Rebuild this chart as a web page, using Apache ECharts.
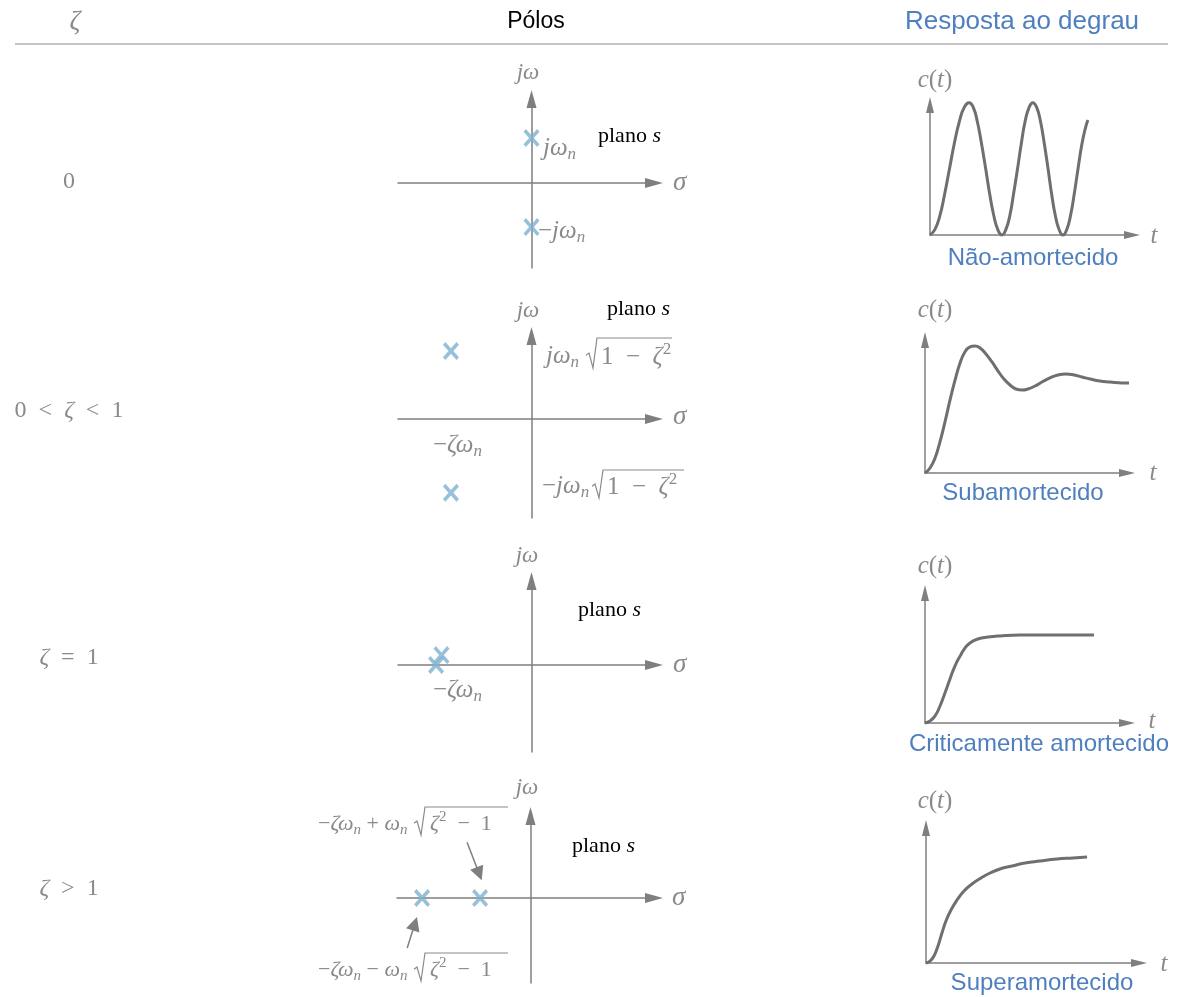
<!DOCTYPE html>
<html>
<head>
<meta charset="utf-8">
<script src="https://cdn.jsdelivr.net/npm/echarts@6/dist/echarts.min.js"></script>
<style>
  html, body { margin: 0; padding: 0; background: #ffffff; }
  #chart { width: 1184px; height: 997px; }
</style>
</head>
<body>
<div id="chart"></div>
<script>
// ---- table text ----
const headerLabels = ['ζ', 'Pólos', 'Resposta ao degrau'];
const responseNames = ['Não-amortecido', 'Subamortecido', 'Criticamente amortecido', 'Superamortecido'];

// ---- pole locations [σ, jω] (units of ~ω_n) ----
const polesUndamped = [[0, 1.0], [0, -0.98]];
const polesUnderdamped = [[-1.79, 1.51], [-1.79, -1.64]];
const polesCritical = [[-2.12, 0], [-2.0, 0.22]];
const polesOverdamped = [[-2.41, 0], [-1.12, 0]];
// pointer arrows for the overdamped pole labels: [σ0, ω0, σ1, ω1]
const overdampedPointers = [[-1.41, 1.24, -1.14, 0.54], [-2.74, -1.11, -2.57, -0.57]];

// ---- step responses [t, c(t)] ----
const stepUndamped = [
  [0, 0], [0.23, 0.08], [0.47, 0.29], [0.70, 0.62], [0.93, 1.0], [1.16, 1.38], [1.40, 1.71], [1.63, 1.92], [1.86, 1.99],
  [2.06, 1.92], [2.25, 1.71], [2.45, 1.38], [2.65, 1.0], [2.84, 0.62], [3.04, 0.29], [3.23, 0.08], [3.43, 0],
  [3.61, 0.08], [3.80, 0.29], [3.98, 0.62], [4.17, 1.0], [4.35, 1.38], [4.53, 1.71], [4.72, 1.92], [4.90, 1.99],
  [5.08, 1.92], [5.26, 1.71], [5.44, 1.38], [5.62, 1.0], [5.79, 0.62], [5.97, 0.29], [6.15, 0.08], [6.33, 0],
  [6.51, 0.08], [6.69, 0.29], [6.87, 0.62], [7.05, 1.0], [7.23, 1.36], [7.41, 1.62], [7.52, 1.73]
];
const stepUnderdamped = [
  [0, 0], [0.24, 0.055], [0.48, 0.165], [0.71, 0.34], [0.95, 0.56], [1.19, 0.80], [1.43, 1.02], [1.67, 1.21],
  [1.90, 1.33], [2.14, 1.385], [2.38, 1.396], [2.62, 1.374], [2.90, 1.308], [3.19, 1.22], [3.48, 1.12],
  [3.76, 1.033], [4.05, 0.967], [4.33, 0.923], [4.62, 0.912], [4.90, 0.923], [5.24, 0.956], [5.57, 1.0],
  [5.95, 1.044], [6.33, 1.077], [6.71, 1.088], [7.10, 1.077], [7.48, 1.055], [7.86, 1.033], [8.33, 1.011],
  [8.81, 1.0], [9.38, 0.989], [10.14, 0.989]
];
const stepCritical = [
  [0, 0], [0.24, 0.023], [0.48, 0.08], [0.71, 0.19], [0.95, 0.34], [1.19, 0.5], [1.43, 0.65], [1.67, 0.76],
  [1.90, 0.85], [2.14, 0.91], [2.52, 0.955], [3.0, 0.977], [3.57, 0.99], [4.52, 1.0], [6.43, 1.0], [8.05, 1.0]
];
const stepOverdamped = [
  [0, 0], [0.19, 0.018], [0.38, 0.064], [0.57, 0.155], [0.76, 0.273], [0.95, 0.382], [1.19, 0.482], [1.48, 0.573],
  [1.81, 0.655], [2.19, 0.718], [2.62, 0.773], [3.05, 0.818], [3.52, 0.855], [4.1, 0.882], [4.71, 0.909],
  [5.43, 0.927], [6.24, 0.945], [7.0, 0.955], [7.67, 0.964]
];

const poleSets = [polesUndamped, polesUnderdamped, polesCritical, polesOverdamped];
const stepSets = [stepUndamped, stepUnderdamped, stepCritical, stepOverdamped];

// ---- layout (pixels) ----
const PX_POLE = 45;  // pixels per unit in the s-plane panels
const PX_T = 21;     // pixels per time unit in the response panels
const poleBoxes = [
  { left: 398, tipX: 663, tipY: 90,  bottom: 268, ox: 531.5, oy: 183 },
  { left: 398, tipX: 663, tipY: 327, bottom: 518, ox: 531.5, oy: 419 },
  { left: 398, tipX: 663, tipY: 572, bottom: 752, ox: 531.5, oy: 665 },
  { left: 397, tipX: 663, tipY: 807, bottom: 983, ox: 530.5, oy: 898 }
];
const stepBoxes = [
  { ox: 930, oy: 235, tipX: 1140, tipY: 97,  sy: 66.5 },
  { ox: 925, oy: 473, tipX: 1135, tipY: 332, sy: 91 },
  { ox: 925, oy: 723, tipX: 1135, tipY: 585, sy: 88 },
  { ox: 926, oy: 963, tipX: 1147, tipY: 820, sy: 110 }
];

const AXIS_GRAY = '#7f7f7f';
const TEXT_GRAY = '#8a8a8a';
const CURVE_GRAY = '#6f6f6f';
const POLE_BLUE = '#7db0cf';
const TITLE_BLUE = '#4f7fbf';
const SERIF = '"Liberation Serif", "Times New Roman", serif';
const SANS = '"Liberation Sans", Arial, Helvetica, sans-serif';
const POLE_MARK = 'path://M0,1.5L1.5,0L5,3.5L8.5,0L10,1.5L6.5,5L10,8.5L8.5,10L5,6.5L1.5,10L0,8.5L3.5,5Z';

const grids = [], xAxes = [], yAxes = [], series = [];

function bareAxis(extra) {
  return Object.assign({
    type: 'value',
    axisTick: { show: false },
    axisLabel: { show: false },
    splitLine: { show: false }
  }, extra);
}

// s-plane panels
poleBoxes.forEach(function (b, i) {
  const ARROW = 9;
  const right = b.tipX - ARROW, top = b.tipY + ARROW;
  grids.push({ left: b.left, top: top, width: right - b.left, height: b.bottom - top });
  const lineCfg = { onZero: true, symbol: ['none', 'triangle'], symbolSize: [10, 18], lineStyle: { color: AXIS_GRAY, width: 1.5 } };
  xAxes.push(bareAxis({ gridIndex: i, min: (b.left - b.ox) / PX_POLE, max: (right - b.ox) / PX_POLE, axisLine: lineCfg }));
  yAxes.push(bareAxis({ gridIndex: i, min: (b.oy - b.bottom) / PX_POLE, max: (b.oy - top) / PX_POLE, axisLine: lineCfg }));
  series.push({
    type: 'scatter', xAxisIndex: i, yAxisIndex: i, silent: true, z: 5,
    symbol: POLE_MARK, symbolSize: [16, 18],
    itemStyle: { color: POLE_BLUE },
    data: poleSets[i]
  });
});

// pointer arrows on the overdamped s-plane
series.push({
  type: 'lines', coordinateSystem: 'cartesian2d', xAxisIndex: 3, yAxisIndex: 3, silent: true,
  symbol: ['none', 'triangle'], symbolSize: [9, 14],
  lineStyle: { color: AXIS_GRAY, width: 1.5, opacity: 1, curveness: 0 },
  data: overdampedPointers.map(function (p) { return { coords: [[p[0], p[1]], [p[2], p[3]]] }; })
});

// step response panels
stepBoxes.forEach(function (b, k) {
  const i = k + 4;
  const ARROW = 8;
  const right = b.tipX - ARROW, top = b.tipY + ARROW;
  grids.push({ left: b.ox, top: top, width: right - b.ox, height: b.oy - top });
  const lineCfg = { onZero: true, symbol: ['none', 'triangle'], symbolSize: [8, 16], lineStyle: { color: AXIS_GRAY, width: 1.5 } };
  xAxes.push(bareAxis({ gridIndex: i, min: 0, max: (right - b.ox) / PX_T, axisLine: lineCfg }));
  yAxes.push(bareAxis({ gridIndex: i, min: 0, max: (b.oy - top) / b.sy, axisLine: lineCfg }));
  series.push({
    type: 'line', xAxisIndex: i, yAxisIndex: i, silent: true, clip: false,
    showSymbol: false, smooth: 0.5,
    lineStyle: { color: CURVE_GRAY, width: 3 },
    data: stepSets[k]
  });
});

// ---- text ----
function richFor(size) {
  const sub = Math.round(size * 0.66);
  const lh = Math.round(size * 1.25);
  return {
    i: { fontFamily: SERIF, fontStyle: 'italic', fontSize: size, lineHeight: lh, fill: TEXT_GRAY },
    r: { fontFamily: SERIF, fontSize: size, lineHeight: lh, fill: TEXT_GRAY },
    s: { fontFamily: SERIF, fontStyle: 'italic', fontSize: sub, lineHeight: sub, verticalAlign: 'bottom', fill: TEXT_GRAY },
    p: { fontFamily: SERIF, fontSize: sub, lineHeight: sub, verticalAlign: 'top', fill: TEXT_GRAY },
    b: { fontFamily: SERIF, fontSize: size, lineHeight: lh, fill: '#000000' },
    bi: { fontFamily: SERIF, fontStyle: 'italic', fontSize: size, lineHeight: lh, fill: '#000000' }
  };
}

function mathText(x, y, text, size, align) {
  return {
    type: 'text', x: x, y: y, z: 10, silent: true,
    style: { text: text, rich: richFor(size), align: align || 'left', verticalAlign: 'middle' }
  };
}
function plainText(x, y, text, font, color) {
  return {
    type: 'text', x: x, y: y, z: 10, silent: true,
    style: { text: text, font: font, fill: color, align: 'center', verticalAlign: 'middle' }
  };
}
// radical sign: x = bottom of the stroke, runs up to yTop and along to xEnd
function radical(x, yTop, yBot, xEnd) {
  const h = yBot - yTop;
  return {
    type: 'polyline', z: 10, silent: true,
    shape: { points: [[x - 7, yBot - h * 0.42], [x - 4, yBot - h * 0.5], [x, yBot], [x + 4, yTop], [xEnd, yTop]] },
    style: { stroke: TEXT_GRAY, lineWidth: 1.2, fill: null }
  };
}

const graphics = [];
// header row
graphics.push(mathText(75, 22, '{i|' + headerLabels[0] + '}', 27, 'center'));
graphics.push(plainText(536, 22, headerLabels[1], '23px ' + SANS, '#000000'));
graphics.push(plainText(1022, 22, headerLabels[2], '26px ' + SANS, TITLE_BLUE));
graphics.push({ type: 'line', silent: true, shape: { x1: 15, y1: 44, x2: 1168, y2: 44 }, style: { stroke: '#8c8c8c', lineWidth: 1.2 } });

// damping column
const dampRich = [
  '{r|0}',
  '{r|0  <  }{i|ζ}{r|  <  1}',
  '{i|ζ}{r|  =  1}',
  '{i|ζ}{r|  >  1}'
];
const dampY = [182, 411, 658, 889];
dampRich.forEach(function (t, i) { graphics.push(mathText(69, dampY[i], t, 24, 'center')); });

// s-plane annotations
const planeLabel = '{b|plano }{bi|s}';
const sigmaLabel = '{i|σ}';
const jwLabel = '{i|jω}';
const AX = 23, LB = 25;
// row 1
graphics.push(mathText(528, 73, jwLabel, AX, 'center'));
graphics.push(mathText(673, 183, sigmaLabel, 27));
graphics.push(mathText(598, 136, planeLabel, 22));
graphics.push(mathText(543, 148, '{i|jω}{s|n}', LB));
graphics.push(mathText(538, 231, '{r|−}{i|jω}{s|n}', LB));
// row 2
graphics.push(mathText(528, 311, jwLabel, AX, 'center'));
graphics.push(mathText(607, 309, planeLabel, 22));
graphics.push(mathText(673, 417, sigmaLabel, 27));
graphics.push(mathText(546, 356, '{i|jω}{s|n}', LB));
graphics.push(radical(593, 338, 368, 672));
graphics.push(mathText(601, 357, '{r|1  −  }{i|ζ}{p|2}', LB));
graphics.push(mathText(433, 445, '{r|−}{i|ζω}{s|n}', LB));
graphics.push(mathText(542, 486, '{r|−}{i|jω}{s|n}', LB));
graphics.push(radical(599, 470, 498, 684));
graphics.push(mathText(607, 487, '{r|1  −  }{i|ζ}{p|2}', LB));
// row 3
graphics.push(mathText(527, 556, jwLabel, AX, 'center'));
graphics.push(mathText(578, 610, planeLabel, 22));
graphics.push(mathText(673, 665, sigmaLabel, 27));
graphics.push(mathText(433, 690, '{r|−}{i|ζω}{s|n}', LB));
// row 4
graphics.push(mathText(318, 824, '{r|−}{i|ζω}{s|n}{r| + }{i|ω}{s|n}', 22));
graphics.push(radical(421, 807, 835, 508));
graphics.push(mathText(430, 824, '{i|ζ}{p|2}{r|  −  1}', 22));
graphics.push(mathText(318, 970, '{r|−}{i|ζω}{s|n}{r| − }{i|ω}{s|n}', 22));
graphics.push(radical(421, 953, 981, 508));
graphics.push(mathText(430, 970, '{i|ζ}{p|2}{r|  −  1}', 22));
graphics.push(mathText(527, 788, jwLabel, AX, 'center'));
graphics.push(mathText(572, 846, planeLabel, 22));
graphics.push(mathText(672, 898, sigmaLabel, 27));

// response panel labels
const ctY = [80, 310, 566, 801];
const tPos = [[1154, 236], [1153, 473], [1152, 721], [1164, 964]];
const nameX = [1033, 1023, 1039, 1042];
const nameY = [258, 493, 744, 983];
for (let k = 0; k < 4; k++) {
  graphics.push(mathText(935, ctY[k], '{i|c}{r|(}{i|t}{r|)}', 25, 'center'));
  graphics.push(mathText(tPos[k][0], tPos[k][1], '{i|t}', 25, 'center'));
  graphics.push(plainText(nameX[k], nameY[k], responseNames[k], '24px ' + SANS, TITLE_BLUE));
}

const chart = echarts.init(document.getElementById('chart'), null, { renderer: 'canvas' });
chart.setOption({
  animation: false,
  backgroundColor: '#ffffff',
  grid: grids,
  xAxis: xAxes,
  yAxis: yAxes,
  series: series,
  graphic: { elements: graphics }
});
</script>
</body>
</html>
